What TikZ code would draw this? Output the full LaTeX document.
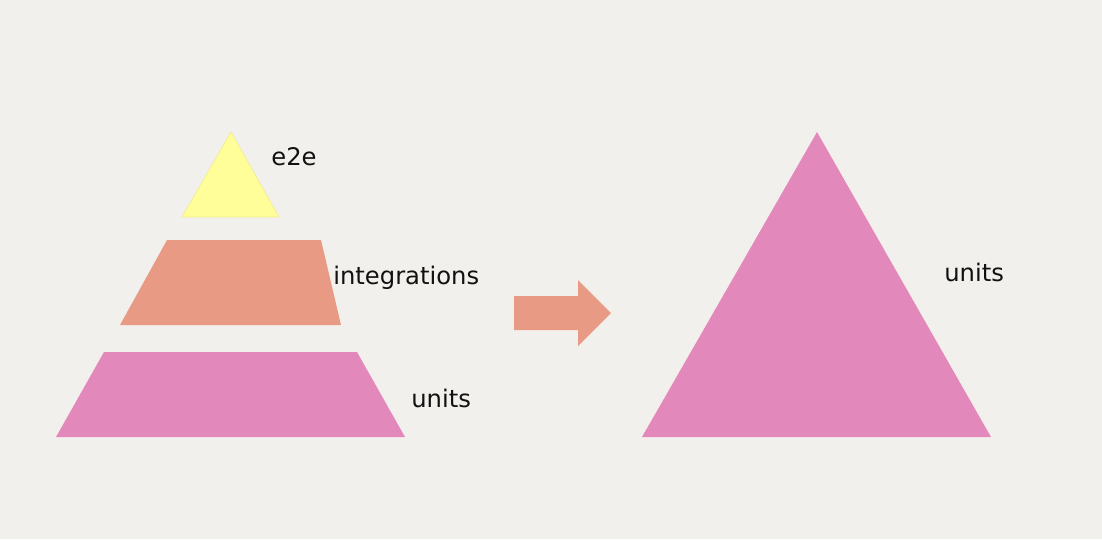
\documentclass[tikz,border=0pt]{standalone}
\usepackage{fontspec}
\setmainfont{DejaVu Sans}
\usepackage{xcolor}
\definecolor{pgbg}{HTML}{F2F0EC}
\definecolor{pgyellow}{HTML}{FFFE99}
\definecolor{pgsalmon}{HTML}{E89A85}
\definecolor{pgpink}{HTML}{E388BB}
\definecolor{pgink}{HTML}{111111}
\usetikzlibrary{positioning}
\tikzset{
  pglayer/.style ={draw=none},
  pgtop/.style   ={pglayer, fill=pgyellow, draw=pgyellow!80!black!30!pgyellow, line width=0.4pt},
  pgmid/.style   ={pglayer, fill=pgsalmon},
  pgbase/.style  ={pglayer, fill=pgpink},
  pgarrow/.style ={fill=pgsalmon, draw=none},
  pglbl/.style   ={font=\fontsize{13.8}{16}\selectfont, text=pgink, anchor=west, inner sep=0pt},
}

\begin{document}
\begin{tikzpicture}[x=0.02cm, y=-0.02cm]
  \fill[pgbg] (0,0) rectangle (1102,539);
  \useasboundingbox (0,0) rectangle (1102,539);
  % left pyramid
  \path[pgtop]  (231,132) -- (279,217) -- (182,217) -- cycle;
  \path[pgmid]  (167,240) -- (321,240) -- (341,325) -- (120,325) -- cycle;
  \path[pgbase] (104,352) -- (357,352) -- (405,437) -- (56,437) -- cycle;
  \node[pglbl] (e2e)   at (271,157) {e2e};
  \node[pglbl] (integ) at (333,278) {integrations};
  \node[pglbl] (unitsl) at (411,398) {units};
  % arrow
  \path[pgarrow] (514,296) -- (578,296) -- (578,280) -- (611,313)
    -- (578,346) -- (578,330) -- (514,330) -- cycle;
  % right pyramid
  \path[pgbase] (817,132) -- (991,437) -- (642,437) -- cycle;
  \node[pglbl] (unitsr) at (944,272) {units};
\end{tikzpicture}
\end{document}
